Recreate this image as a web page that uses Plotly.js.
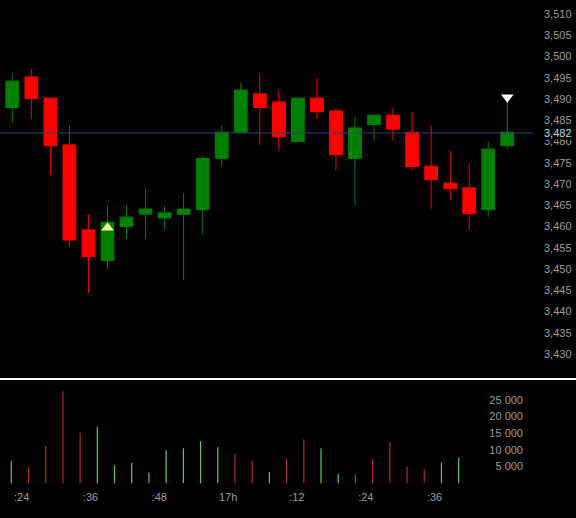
<!DOCTYPE html>
<html>
<head>
<meta charset="utf-8">
<script src="https://cdn.plot.ly/plotly-3.0.1.min.js"></script>
<style>html,body{margin:0;padding:0;background:#000;}#chart{width:576px;height:518px;}</style>
</head>
<body>
<div id="chart"></div>
<script>
// ---- data ----
const idx = [0,1,2,3,4,5,6,7,8,9,10,11,12,13,14,15,16,17,18,19,20,21,22,23,24,25,26];
const opens  = [3488.0,3495.2,3490.2,3479.2,3459.2,3452.0,3460.0,3462.9,3462.0,3462.9,3464.0,3476.0,3482.2,3491.2,3489.3,3480.0,3490.2,3487.2,3476.0,3484.0,3486.2,3482.2,3474.2,3470.2,3469.1,3464.0,3479.0];
const highs  = [3496.0,3497.1,3490.2,3483.9,3462.9,3464.9,3464.9,3468.8,3464.9,3467.8,3476.8,3483.9,3493.9,3495.9,3491.8,3490.2,3494.9,3487.8,3486.0,3486.2,3488.0,3486.9,3483.9,3478.0,3474.9,3479.9,3489.4];
const lows   = [3484.3,3485.3,3472.1,3455.2,3444.3,3450.0,3457.1,3457.1,3459.2,3447.3,3458.2,3474.2,3482.2,3479.2,3478.2,3480.0,3485.3,3473.1,3465.1,3480.2,3480.2,3473.1,3464.2,3466.3,3459.2,3462.3,3478.2];
const closes = [3494.2,3490.1,3479.0,3456.8,3452.9,3461.0,3462.2,3464.1,3463.2,3464.1,3476.0,3482.2,3492.1,3488.0,3481.1,3490.2,3487.0,3476.9,3483.2,3486.2,3482.9,3474.1,3471.0,3468.9,3463.0,3478.2,3482.2];
const volumes = [6700,4900,11200,27600,15100,16900,5450,6150,3150,10000,10500,12600,10800,8800,6750,3450,7350,13200,10500,2750,2750,7350,12350,4950,4150,6150,7650];
const lastPrice = 3482;
const lastPriceLabel = '3,482';
const priceTickVals = [3430,3435,3440,3445,3450,3455,3460,3465,3470,3475,3480,3485,3490,3495,3500,3505,3510];
const timeTickPos = [0.6,4.6,8.6,12.6,16.6,20.6,24.6];
const timeTickText = [':24',':36',':48','17h',':12',':24',':36'];
const volTickVals = [5000,10000,15000,20000,25000];
const volTickText = ['5 000','10 000','15 000','20 000','25 000'];
const buySignalIdx = [5];
const sellSignalIdx = [26];

// ---- styling ----
const W = 576, H = 518;
const GREEN = '#008000', RED = '#ff0000';
const VOL_GREEN = '#62c862', VOL_RED = '#b02a2a';
const TXT = '#9c9c9c';
const FONT = 'Liberation Sans, Arial, sans-serif';

const volColors = idx.map(i => closes[i] >= opens[i] ? VOL_GREEN : VOL_RED);

const candle = {
  type: 'candlestick', x: idx, open: opens, high: highs, low: lows, close: closes,
  xaxis: 'x', yaxis: 'y', whiskerwidth: 0,
  increasing: {line: {color: GREEN, width: 1}, fillcolor: GREEN},
  decreasing: {line: {color: RED, width: 1}, fillcolor: RED},
  hoverinfo: 'skip'
};
const buy = {
  type: 'scatter', mode: 'markers', xaxis: 'x', yaxis: 'y', hoverinfo: 'skip',
  x: buySignalIdx, y: buySignalIdx.map(i => closes[i] - 1.3),
  marker: {symbol: 'triangle-up', size: 11, color: '#ffffa0', line: {width: 0}}
};
const sell = {
  type: 'scatter', mode: 'markers', xaxis: 'x', yaxis: 'y', hoverinfo: 'skip',
  x: sellSignalIdx, y: sellSignalIdx.map(i => highs[i] + 1.0),
  marker: {symbol: 'triangle-down', size: 11, color: '#ffffff', line: {width: 0}}
};
const vol = {
  type: 'bar', x: idx, y: volumes, xaxis: 'x2', yaxis: 'y2', width: 0.07,
  marker: {color: volColors, line: {width: 0}}, hoverinfo: 'skip'
};

// pixel helpers for domains
const px = v => v / W;
const py = v => 1 - v / H;
// volume scale: zero at y=483.3px, 16.7px per 5000
const volAt = y => (483.3 - y) * 5000 / 16.7;

const layout = {
  width: W, height: H,
  margin: {l: 0, r: 0, t: 0, b: 0},
  paper_bgcolor: '#000', plot_bgcolor: '#000',
  showlegend: false,
  boxgap: 0.33, boxgroupgap: 0,
  font: {family: FONT, size: 11, color: TXT},
  xaxis: {domain: [0, px(533)], range: [-0.646, 27.35], showticklabels: false, showgrid: false,
          zeroline: false, showline: false, ticks: '', rangeslider: {visible: false}, fixedrange: true},
  yaxis: {domain: [py(378), 1], range: [3424.35, 3513.29], side: 'right', anchor: 'x',
          tickmode: 'array', tickvals: priceTickVals, tickformat: ',d', showgrid: false, zeroline: false, showline: false,
          ticks: '', ticklabelstandoff: 10, tickfont: {family: FONT, size: 11, color: TXT}, fixedrange: true},
  xaxis2: {domain: [0, px(490)], range: [-0.657, 27.82], anchor: 'y2', tickmode: 'array',
           tickvals: timeTickPos, ticktext: timeTickText, showgrid: false, zeroline: false, showline: false,
           ticks: '', ticklabelstandoff: 2, tickfont: {family: FONT, size: 11, color: TXT}, fixedrange: true},
  yaxis2: {domain: [py(487), py(382)], range: [volAt(487), volAt(382)], anchor: 'free', position: px(523),
           side: 'left', tickmode: 'array', tickvals: volTickVals, ticktext: volTickText,
           showgrid: false, zeroline: false, showline: false, ticks: '', ticklabelstandoff: 0,
           tickfont: {family: FONT, size: 11, color: TXT}, fixedrange: true},
  shapes: [
    {type: 'line', xref: 'x domain', yref: 'y', x0: 0, x1: 1, y0: lastPrice, y1: lastPrice,
     line: {color: '#34406e', width: 1}},
    {type: 'line', xref: 'paper', yref: 'paper', x0: 0, x1: 1, y0: py(379), y1: py(379),
     line: {color: '#ffffff', width: 2}}
  ],
  annotations: [
    {xref: 'paper', yref: 'y', x: px(543), y: lastPrice, xanchor: 'left', yanchor: 'middle',
     text: lastPriceLabel, showarrow: false, bgcolor: '#000', borderpad: 0,
     font: {family: FONT, size: 11, color: '#a6e2e2'}}
  ]
};

Plotly.newPlot('chart', [candle, vol, buy, sell], layout, {staticPlot: true, displayModeBar: false});
</script>
</body>
</html>
